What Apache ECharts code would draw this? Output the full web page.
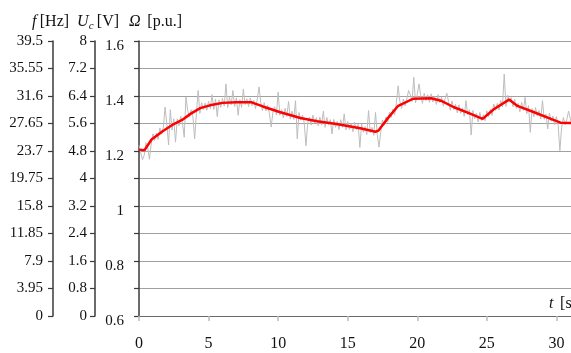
<!DOCTYPE html>
<html>
<head>
<meta charset="utf-8">
<style>
  html, body { margin: 0; padding: 0; background: #fff; }
  #chart { width: 571px; height: 353px; }
</style>
<script src="https://cdn.jsdelivr.net/npm/echarts@6/dist/echarts.min.js"></script>
</head>
<body>
<div id="chart"></div>
<script>
// tick values of the three left axes and the time axis
const fTicks = [0, 3.95, 7.9, 11.85, 15.8, 19.75, 23.7, 27.65, 31.6, 35.55, 39.5];
const ucTicks = [0, 0.8, 1.6, 2.4, 3.2, 4, 4.8, 5.6, 6.4, 7.2, 8];
const omegaLabels = [0.6, 0.8, 1, 1.2, 1.4, 1.6];
const timeTicks = [0, 5, 10, 15, 20, 25, 30];

// measured speed (grey, noisy) [t s, p.u.]
const omegaRaw = [
    [0,1.221],[0.125,1.193],[0.25,1.168],[0.375,1.185],[0.5,1.230],[0.625,1.213],[0.75,1.170],[0.875,1.225],
    [1.0,1.262],[1.125,1.238],[1.25,1.265],[1.375,1.242],[1.5,1.284],[1.625,1.261],[1.75,1.287],[1.875,1.360],
    [2.0,1.298],[2.125,1.222],[2.25,1.350],[2.375,1.276],[2.5,1.317],[2.625,1.232],[2.75,1.317],[2.875,1.292],
    [3.0,1.326],[3.125,1.302],[3.25,1.250],[3.375,1.396],[3.5,1.347],[3.625,1.324],[3.75,1.350],[3.875,1.325],
    [4.0,1.244],[4.125,1.336],[4.25,1.420],[4.375,1.337],[4.5,1.376],[4.625,1.351],[4.75,1.374],[4.875,1.348],
    [5.0,1.381],[5.125,1.354],[5.25,1.405],[5.375,1.351],[5.5,1.389],[5.625,1.325],[5.75,1.386],[5.875,1.359],
    [6.0,1.391],[6.125,1.363],[6.25,1.444],[6.375,1.358],[6.5,1.395],[6.625,1.368],[6.75,1.420],[6.875,1.362],
    [7.0,1.393],[7.125,1.330],[7.25,1.387],[7.375,1.359],[7.5,1.425],[7.625,1.369],[7.75,1.390],[7.875,1.362],
    [8.0,1.393],[8.125,1.365],[8.25,1.384],[8.375,1.354],[8.5,1.389],[8.625,1.433],[8.75,1.378],[8.875,1.347],
    [9.0,1.376],[9.125,1.346],[9.25,1.366],[9.375,1.336],[9.5,1.287],[9.625,1.342],[9.75,1.361],[9.875,1.331],
    [10.0,1.414],[10.125,1.330],[10.25,1.350],[10.375,1.320],[10.5,1.355],[10.625,1.326],[10.75,1.380],[10.875,1.316],
    [11.0,1.345],[11.125,1.315],[11.25,1.383],[11.375,1.244],[11.5,1.340],[11.625,1.312],[11.75,1.331],[11.875,1.302],
    [12.0,1.219],[12.125,1.302],[12.25,1.323],[12.375,1.294],[12.5,1.330],[12.625,1.302],[12.75,1.321],[12.875,1.292],
    [13.0,1.323],[13.125,1.294],[13.25,1.345],[13.375,1.286],[13.5,1.322],[13.625,1.294],[13.75,1.314],[13.875,1.262],
    [14.0,1.315],[14.125,1.286],[14.25,1.308],[14.375,1.278],[14.5,1.314],[14.625,1.286],[14.75,1.335],[14.875,1.277],
    [15.0,1.307],[15.125,1.278],[15.25,1.299],[15.375,1.270],[15.5,1.305],[15.625,1.277],[15.75,1.297],[15.875,1.213],
    [16.0,1.298],[16.125,1.268],[16.25,1.289],[16.375,1.260],[16.5,1.347],[16.625,1.267],[16.75,1.286],[16.875,1.257],
    [17.0,1.340],[17.125,1.260],[17.25,1.214],[17.375,1.268],[17.5,1.313],[17.625,1.294],[17.75,1.324],[17.875,1.304],
    [18.0,1.342],[18.125,1.322],[18.25,1.352],[18.375,1.331],[18.5,1.376],[18.625,1.437],[18.75,1.380],[18.875,1.355],
    [19.0,1.389],[19.125,1.364],[19.25,1.389],[19.375,1.420],[19.5,1.404],[19.625,1.380],[19.75,1.468],[19.875,1.375],
    [20.0,1.406],[20.125,1.444],[20.25,1.401],[20.375,1.373],[20.5,1.410],[20.625,1.383],[20.75,1.405],[20.875,1.377],
    [21.0,1.408],[21.125,1.378],[21.25,1.398],[21.375,1.369],[21.5,1.405],[21.625,1.376],[21.75,1.395],[21.875,1.363],
    [22.0,1.391],[22.125,1.410],[22.25,1.379],[22.375,1.348],[22.5,1.382],[22.625,1.351],[22.75,1.370],[22.875,1.339],
    [23.0,1.368],[23.125,1.337],[23.25,1.357],[23.375,1.326],[23.5,1.383],[23.625,1.331],[23.75,1.350],[23.875,1.258],
    [24.0,1.348],[24.125,1.317],[24.25,1.337],[24.375,1.306],[24.5,1.340],[24.625,1.311],[24.75,1.332],[24.875,1.310],
    [25.0,1.346],[25.125,1.324],[25.25,1.351],[25.375,1.329],[25.5,1.371],[25.625,1.348],[25.75,1.373],[25.875,1.349],
    [26.0,1.384],[26.125,1.360],[26.25,1.480],[26.375,1.362],[26.5,1.403],[26.625,1.378],[26.75,1.394],[26.875,1.361],
    [27.0,1.388],[27.125,1.355],[27.25,1.373],[27.375,1.343],[27.5,1.377],[27.625,1.348],[27.75,1.395],[27.875,1.336],
    [28.0,1.365],[28.125,1.268],[28.25,1.354],[28.375,1.324],[28.5,1.358],[28.625,1.328],[28.75,1.347],[28.875,1.316],
    [29.0,1.383],[29.125,1.315],[29.25,1.334],[29.375,1.280],[29.5,1.338],[29.625,1.308],[29.75,1.327],[29.875,1.296],
    [30.0,1.325],[30.125,1.294],[30.25,1.201],[30.375,1.285],[30.5,1.322],[30.625,1.295],[30.75,1.315],[30.875,1.345],
    [31.0,1.318],[31.125,1.290]
];

// filtered speed (red) [t s, p.u.]
const omegaFiltered = [
    [0,1.205],[0.4,1.203],[0.9,1.242],[1.7,1.272],[2.5,1.298],[3.1,1.313],[3.7,1.335],[4.4,1.356],
    [5.1,1.366],[6.0,1.375],[7.0,1.377],[8.1,1.377],[8.9,1.362],[10.1,1.342],[11.6,1.320],[12.8,1.308],
    [14.2,1.298],[15.9,1.283],[17.0,1.270],[17.2,1.274],[17.8,1.314],[18.6,1.363],[19.7,1.390],[21.0,1.392],
    [21.7,1.383],[22.6,1.360],[23.8,1.336],[24.7,1.317],[25.5,1.352],[26.6,1.387],[27.2,1.364],[28.4,1.341],
    [29.6,1.317],[30.3,1.303],[31.1,1.302]
];

const FONT = 'Liberation Serif';
const AXIS_DARK = '#3a3a3a';
const GRID_GREY = '#a0a0a0';

function sideAxis(ticks, offset, margin) {
    return {
        type: 'value',
        position: 'left',
        offset: offset,
        min: ticks[0],
        max: ticks[ticks.length - 1],
        interval: ticks[1] - ticks[0],
        axisLine: { show: true, lineStyle: { color: AXIS_DARK, width: 1.5 } },
        axisTick: { show: true, length: 5, lineStyle: { color: AXIS_DARK, width: 1.2 } },
        axisLabel: { margin: margin, color: '#111', fontFamily: FONT, fontSize: 15 },
        splitLine: { show: false }
    };
}

const option = {
    animation: false,
    backgroundColor: '#fff',
    grid: { left: 139, right: 0, top: 41, bottom: 37 },
    xAxis: {
        type: 'value',
        min: timeTicks[0],
        max: 31.05,
        interval: timeTicks[1] - timeTicks[0],
        axisLine: { show: true, onZero: false, lineStyle: { color: '#6a6a6a', width: 1 } },
        axisTick: { show: true, length: 5, lineStyle: { color: '#bbb', width: 1.5 } },
        axisLabel: { margin: 20, color: '#111', fontFamily: FONT, fontSize: 16, showMaxLabel: false },
        splitLine: { show: false }
    },
    yAxis: [
        {
            type: 'value',
            position: 'left',
            min: omegaLabels[0],
            max: omegaLabels[omegaLabels.length - 1],
            interval: 0.1,
            axisLine: { show: true, lineStyle: { color: AXIS_DARK, width: 1.5 } },
            axisTick: { show: true, length: 5, lineStyle: { color: AXIS_DARK, width: 1.2 } },
            axisLabel: {
                margin: 15,
                color: '#111',
                fontFamily: FONT,
                fontSize: 15,
                verticalAlign: 'top',
                lineHeight: 10,
                formatter: function (v) {
                    return omegaLabels.some(l => Math.abs(l - v) < 1e-6) ? String(+v.toFixed(1)) : '';
                }
            },
            splitLine: { show: true, lineStyle: { color: GRID_GREY, width: 1 } }
        },
        sideAxis(ucTicks, 44, 8),
        sideAxis(fTicks, 86, 10)
    ],
    graphic: [
        {
            type: 'text',
            left: 32,
            top: 14,
            style: {
                text: '{i|f} {n|[Hz]}{u|U}{s|c} {n|[V]}{o|Ω}  {n|[p.u.]}',
                rich: {
                    i: { fontFamily: FONT, fontSize: 16, fontStyle: 'italic', fill: '#111' },
                    u: { fontFamily: FONT, fontSize: 16, fontStyle: 'italic', fill: '#111', padding: [0, 0, 0, 8] },
                    o: { fontFamily: FONT, fontSize: 16, fontStyle: 'italic', fill: '#111', padding: [0, 0, 0, 10] },
                    n: { fontFamily: FONT, fontSize: 16, fill: '#111' },
                    s: { fontFamily: FONT, fontSize: 11, fontStyle: 'italic', fill: '#111', padding: [8, 0, 0, 0] }
                }
            }
        },
        {
            type: 'text',
            left: 549,
            top: 296,
            style: {
                text: '{i|t}  {n|[s]}',
                rich: {
                    i: { fontFamily: FONT, fontSize: 16, fontStyle: 'italic', fill: '#111' },
                    n: { fontFamily: FONT, fontSize: 16, fill: '#111' }
                }
            }
        }
    ],
    series: [
        {
            name: 'Ω measured',
            type: 'line',
            yAxisIndex: 0,
            data: omegaRaw,
            showSymbol: false,
            lineStyle: { color: '#bdbdbd', width: 1 },
            z: 2
        },
        {
            name: 'Ω filtered',
            type: 'line',
            yAxisIndex: 0,
            data: omegaFiltered,
            showSymbol: false,
            lineStyle: { color: '#ff0000', width: 2.5 },
            z: 3
        }
    ]
};

const chart = echarts.init(document.getElementById('chart'));
chart.setOption(option);
</script>
</body>
</html>
